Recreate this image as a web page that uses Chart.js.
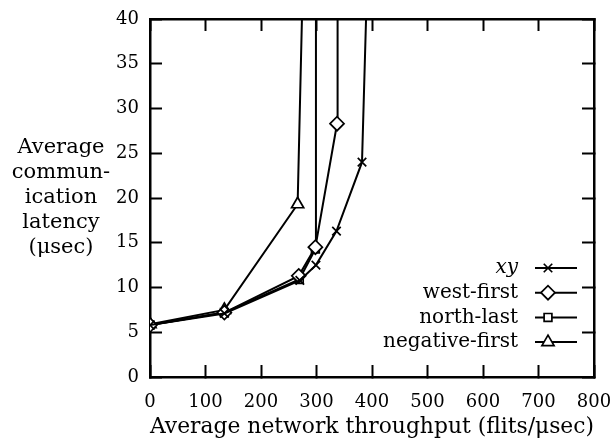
<!DOCTYPE html>
<html>
<head>
<meta charset="utf-8">
<script src="https://cdn.jsdelivr.net/npm/chart.js@4/dist/chart.umd.min.js"></script>
<style>
  html, body { margin: 0; padding: 0; background: #fff; }
  #box { width: 615px; height: 443px; }
</style>
</head>
<body>
<div id="box"><canvas id="myChart" width="615" height="443"></canvas></div>
<script>
// values (last point of each series runs off the top)
var xyX = [0, 134, 270, 299, 336, 382, 392];
var xyY = [5.8, 7.1, 10.8, 12.5, 16.3, 24.0, 46];
var westFirstX = [0, 134, 268, 298, 337, 338];
var westFirstY = [5.8, 7.2, 11.3, 14.5, 28.3, 46];
var northLastX = [0, 134, 269, 298, 299];
var northLastY = [5.8, 7.2, 10.9, 14.3, 46];
var negativeFirstX = [0, 134, 266, 276];
var negativeFirstY = [5.9, 7.5, 19.3, 46];

var seriesNames = ['xy', 'west-first', 'north-last', 'negative-first'];
var xTicks = [0, 100, 200, 300, 400, 500, 600, 700, 800];
var yTicks = [0, 5, 10, 15, 20, 25, 30, 35, 40];
var xTitle = 'Average network throughput (flits/\u03bcsec)';
var yTitleLines = ['Average', 'commun-', 'ication', 'latency', '(\u03bcsec)'];

var serif = '"DejaVu Serif", serif';
Chart.defaults.font.family = serif;
Chart.defaults.color = '#000';

function toPoints(xs, ys) {
  var out = [];
  for (var i = 0; i < xs.length; i++) out.push({x: xs[i], y: ys[i]});
  return out;
}

function serie(label, xs, ys, style, radius) {
  return {
    label: label,
    data: toPoints(xs, ys),
    borderColor: '#000',
    borderWidth: 2,
    pointStyle: style,
    pointRadius: radius,
    pointBorderWidth: 1.7,
    pointBorderColor: '#000',
    pointBackgroundColor: '#fff',
    tension: 0
  };
}

var datasets = [
  serie(seriesNames[0], xyX, xyY, 'crossRot', 6),
  serie(seriesNames[1], westFirstX, westFirstY, 'rectRot', 7),
  serie(seriesNames[2], northLastX, northLastY, 'rect', 5.5),
  serie(seriesNames[3], negativeFirstX, negativeFirstY, 'triangle', 7)
];

// inward tick marks (negative length) and a black frame line for every side
var tickGrid = {
  display: true,
  drawOnChartArea: false,
  drawTicks: true,
  tickLength: -12,
  tickWidth: 2,
  tickColor: '#000',
  color: '#000'
};
var frameBorder = { display: true, width: 2.5, color: '#000' };

function useXTicks(scale) { scale.ticks = xTicks.map(function(v) { return {value: v}; }); }
function useYTicks(scale) { scale.ticks = yTicks.map(function(v) { return {value: v}; }); }

// y title written across on several lines, legend in the lower right
var extraText = {
  id: 'extraText',
  afterDraw: function(chart) {
    var c = chart.ctx;
    var a = chart.chartArea;
    c.save();
    c.fillStyle = '#000';
    c.textAlign = 'center';
    c.textBaseline = 'middle';
    c.font = '21px ' + serif;
    for (var i = 0; i < yTitleLines.length; i++) {
      c.fillText(yTitleLines[i], 61, 148 + i * 25);
    }
    var textRight = a.right - 76;
    var lineStart = a.right - 59;
    var lineEnd = a.right - 17;
    var markX = a.right - 46;
    var firstY = a.bottom - 109;
    for (var j = 0; j < datasets.length; j++) {
      var ds = datasets[j];
      var y = firstY + j * 24.7;
      c.textAlign = 'right';
      c.font = (j === 0 ? 'italic ' : '') + '20px ' + serif;
      c.fillText(ds.label, textRight, y);
      c.strokeStyle = '#000';
      c.lineWidth = 2;
      c.beginPath();
      c.moveTo(lineStart, y);
      c.lineTo(lineEnd, y);
      c.stroke();
      if (Chart.helpers && Chart.helpers.drawPoint) {
        c.save();
        c.strokeStyle = '#000';
        c.fillStyle = '#fff';
        c.lineWidth = 1.7;
        Chart.helpers.drawPoint(c, {pointStyle: ds.pointStyle, rotation: 0, borderWidth: 1.7, radius: ds.pointRadius}, markX, y);
        c.restore();
      }
    }
    c.restore();
  }
};

var chart = new Chart(document.getElementById('myChart').getContext('2d'), {
  type: 'line',
  data: { datasets: datasets },
  options: {
    responsive: false,
    animation: false,
    devicePixelRatio: 1,
    layout: { padding: { top: 19, right: 21 } },
    plugins: {
      legend: { display: false },
      tooltip: { enabled: false }
    },
    scales: {
      x: {
        type: 'linear',
        position: 'bottom',
        min: 0,
        max: 800,
        afterBuildTicks: useXTicks,
        afterFit: function(scale) {
          scale.height = 66;
          scale.paddingLeft = 0;
          scale.paddingRight = 0;
        },
        grid: tickGrid,
        border: frameBorder,
        ticks: { padding: 27, maxRotation: 0, font: { size: 18 }, color: '#000' },
        title: { display: true, text: xTitle, font: { size: 22 }, color: '#000', padding: { top: 0, bottom: 3 } }
      },
      x2: {
        type: 'linear',
        position: 'top',
        min: 0,
        max: 800,
        afterBuildTicks: useXTicks,
        afterFit: function(scale) {
          scale.height = 0;
          scale.paddingLeft = 0;
          scale.paddingRight = 0;
        },
        grid: tickGrid,
        border: frameBorder,
        ticks: { display: false }
      },
      y: {
        type: 'linear',
        position: 'left',
        min: 0,
        max: 40,
        afterBuildTicks: useYTicks,
        afterFit: function(scale) {
          scale.width = 150;
          scale.paddingTop = 0;
          scale.paddingBottom = 0;
        },
        grid: tickGrid,
        border: frameBorder,
        ticks: { padding: 23, font: { size: 18 }, color: '#000' }
      },
      y2: {
        type: 'linear',
        position: 'right',
        min: 0,
        max: 40,
        afterBuildTicks: useYTicks,
        afterFit: function(scale) {
          scale.width = 0;
          scale.paddingTop = 0;
          scale.paddingBottom = 0;
        },
        grid: tickGrid,
        border: frameBorder,
        ticks: { display: false }
      }
    }
  },
  plugins: [extraText]
});
</script>
</body>
</html>
